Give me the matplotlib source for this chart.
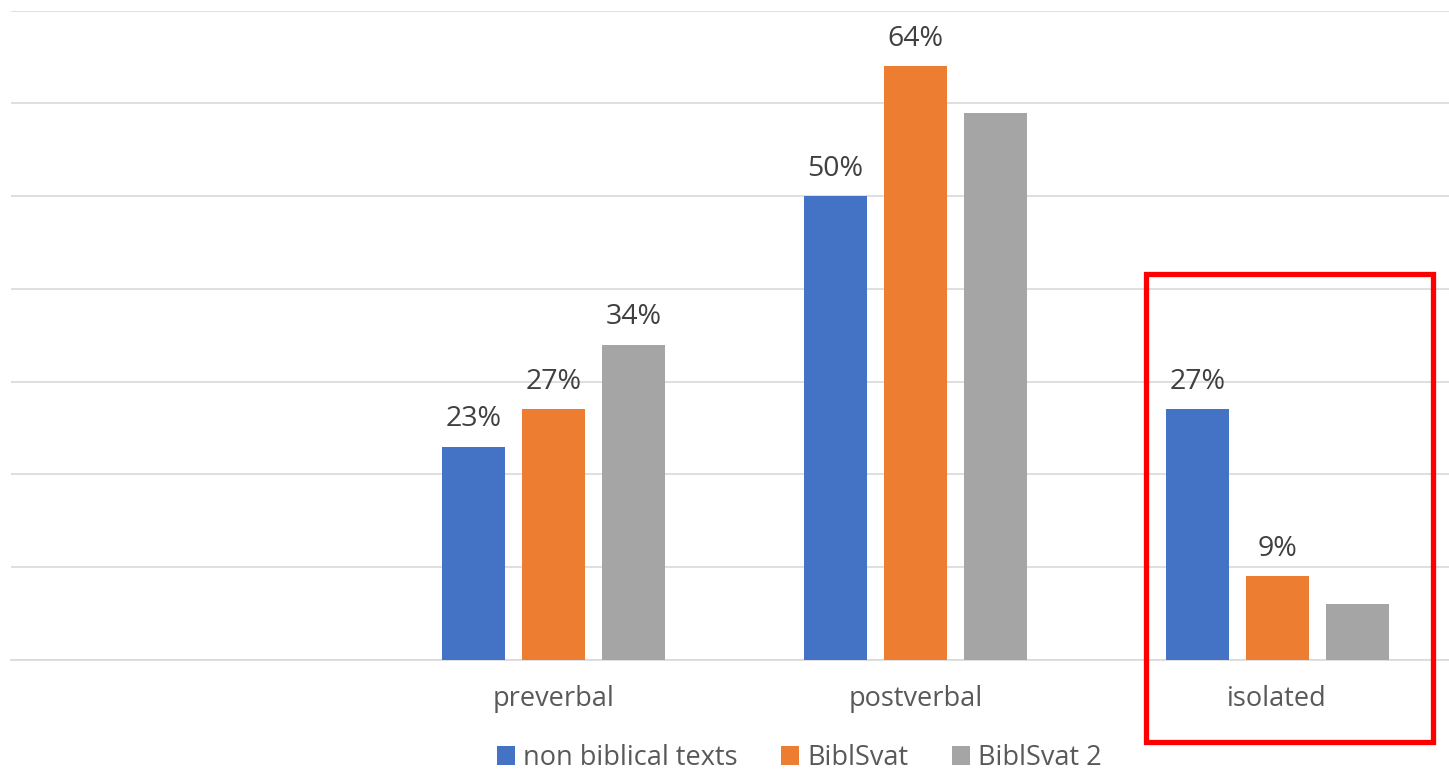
import matplotlib
matplotlib.use("Agg")
import matplotlib.pyplot as plt
import numpy as np
from matplotlib.patches import Rectangle

plt.rcParams['font.family'] = ['Open Sans', 'DejaVu Sans']

# first slot is left empty on purpose
categories = ['', 'preverbal', 'postverbal', 'isolated']
series_names = ['non biblical texts', 'BiblSvat', 'BiblSvat 2']
non_biblical = [np.nan, 0.23, 0.50, 0.27]
biblsvat = [np.nan, 0.27, 0.64, 0.09]
biblsvat2 = [np.nan, 0.34, 0.59, 0.06]
# which bars carry a value label
show_label = [
    [False, True, True, True],
    [False, True, True, True],
    [False, True, False, False],
]
colors = ['#4472C4', '#ED7D31', '#A5A5A5']

W, H = 1449, 772
fig = plt.figure(figsize=(W / 100, H / 100), dpi=100)
ax = fig.add_axes([11 / W, 1 - 660 / H, 1447 / W, (660 - 10.5) / H])

x = np.arange(len(categories))
width = 0.174
step = 0.221
for i, (vals, name, col) in enumerate(zip([non_biblical, biblsvat, biblsvat2], series_names, colors)):
    pos = x + (i - 1) * step
    bars = ax.bar(pos, vals, width, color=col, label=name, zorder=3)
    for j, b in enumerate(bars):
        if show_label[i][j] and not np.isnan(vals[j]):
            ax.annotate(f'{vals[j]:.0%}', (b.get_x() + b.get_width() / 2, vals[j]),
                        xytext=(0, 14.5), textcoords='offset points',
                        ha='center', va='baseline', fontsize=20.5, color='#404040')

ax.set_xlim(-0.5, len(categories) - 0.5)
ax.set_ylim(0, 0.70)
ax.set_yticks(np.arange(0, 0.71, 0.1))
ax.yaxis.grid(True, color='#D9D9D9', linewidth=1.2, zorder=0)
ax.set_yticklabels([])
ax.tick_params(axis='y', length=0)
ax.set_xticks(x)
ax.set_xticklabels(categories, fontsize=19.5, color='#595959')
ax.tick_params(axis='x', length=0, pad=18)
for s in ['top', 'right', 'left']:
    ax.spines[s].set_visible(False)
ax.spines['bottom'].set_color('#D9D9D9')
ax.spines['bottom'].set_linewidth(1.2)

leg = fig.legend(loc='center left', bbox_to_anchor=(497 / W, 1 - 758 / H), ncol=3,
                 frameon=False, fontsize=19.5, handlelength=0.67, handleheight=0.67,
                 handletextpad=0.3, columnspacing=1.6, borderpad=0, borderaxespad=0)
for t in leg.get_texts():
    t.set_color('#595959')

# highlight box around the isolated group
fig.patches.append(Rectangle((1146 / W, 1 - 741.5 / H), (1433 - 1146) / W, (741.5 - 274.5) / H,
                             transform=fig.transFigure, fill=False, edgecolor='#FF0000',
                             linewidth=3.8, zorder=10))

fig.savefig('out.png', dpi=100)
